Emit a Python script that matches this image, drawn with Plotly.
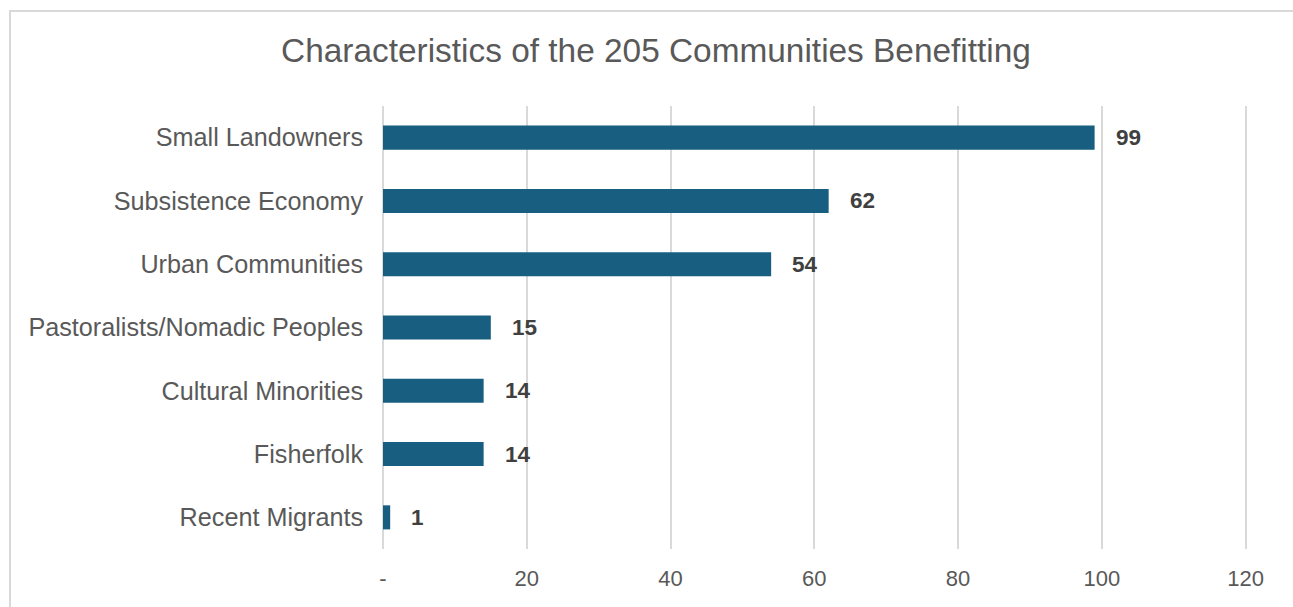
import plotly.graph_objects as go

# Community characteristics and counts
categories = [
    "Small Landowners",
    "Subsistence Economy",
    "Urban Communities",
    "Pastoralists/Nomadic Peoples",
    "Cultural Minorities",
    "Fisherfolk",
    "Recent Migrants",
]
counts = [99, 62, 54, 15, 14, 14, 1]

x_tickvals = [0, 20, 40, 60, 80, 100, 120]
x_ticktext = ["-", "20", "40", "60", "80", "100", "120"]

W, H = 1293, 607
M_L, M_R, M_T, M_B = 383, 46, 106, 58
plot_w = W - M_L - M_R
plot_h = H - M_T - M_B

BAR_COLOR = "#175e80"
GRID_COLOR = "#d9d9d9"
TEXT_COLOR = "#595959"
FONT = "Liberation Sans, Arial, Helvetica, sans-serif"

fig = go.Figure()
fig.add_trace(go.Bar(
    x=counts,
    y=categories,
    orientation="h",
    marker=dict(color=BAR_COLOR, line=dict(width=0)),
    hoverinfo="x+y",
    showlegend=False,
))

# value labels to the right of each bar
for cat, val in zip(categories, counts):
    fig.add_annotation(
        x=val, y=cat, xref="x", yref="y",
        text=f"<b>{val}</b>", showarrow=False,
        xanchor="left", yanchor="middle", xshift=19,
        font=dict(family=FONT, size=22.5, color="#404040"),
    )

# outer chart frame
fig.add_shape(
    type="rect", xref="paper", yref="paper",
    x0=(10 - M_L) / plot_w, x1=(W + 20 - M_L) / plot_w,
    y0=-(M_B + 20) / plot_h, y1=1 + (M_T - 11) / plot_h,
    line=dict(color=GRID_COLOR, width=2), fillcolor="rgba(0,0,0,0)",
    layer="below",
)

fig.update_layout(
    width=W, height=H,
    margin=dict(l=M_L, r=M_R, t=M_T, b=M_B, pad=0),
    paper_bgcolor="white", plot_bgcolor="white",
    bargap=0.62,
    font=dict(family=FONT, color=TEXT_COLOR),
    title=dict(
        text="Characteristics of the 205 Communities Benefitting",
        x=656 / W, xref="container", xanchor="center",
        y=1 - 50 / H, yref="container", yanchor="middle",
        font=dict(family=FONT, size=33.4, color=TEXT_COLOR),
    ),
    xaxis=dict(
        range=[0, 120.2],
        tickvals=x_tickvals, ticktext=x_ticktext,
        showgrid=True, gridcolor=GRID_COLOR, gridwidth=2,
        zeroline=True, zerolinecolor=GRID_COLOR, zerolinewidth=2,
        showline=False, ticks="",
        tickfont=dict(family=FONT, size=22, color=TEXT_COLOR),
        ticklabelstandoff=14,
        fixedrange=True,
    ),
    yaxis=dict(
        autorange="reversed",
        showgrid=False, zeroline=False, showline=False, ticks="",
        tickfont=dict(family=FONT, size=25.2, color=TEXT_COLOR),
        ticklabelstandoff=19,
        fixedrange=True,
    ),
)

fig.write_html("out.html")
